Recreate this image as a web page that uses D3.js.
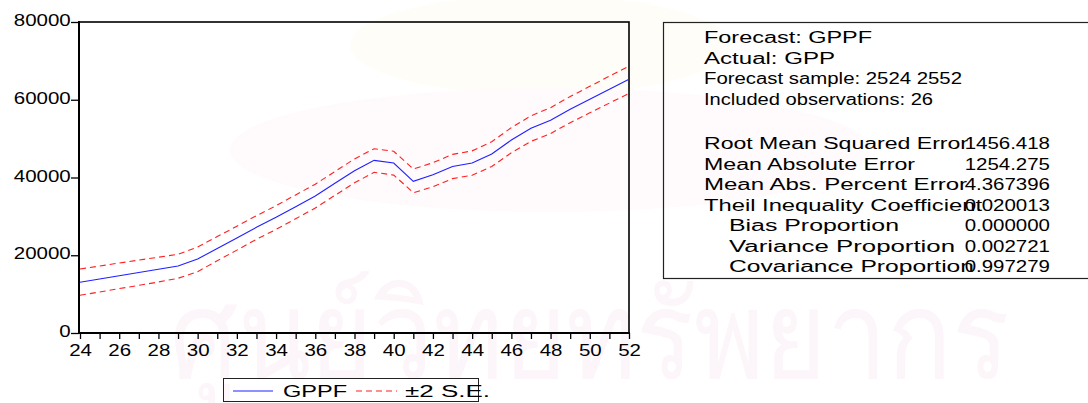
<!DOCTYPE html>
<html>
<head>
<meta charset="utf-8">
<script src="https://cdn.jsdelivr.net/npm/d3@7"></script>
<style>
body { margin:0; background:#fff; }
text { font-family: "Liberation Sans", Arial, sans-serif; font-size:16px; fill:#000; }
</style>
</head>
<body>
<svg width="1088" height="403"></svg>
<script>
'use strict';

// forecast years (25xx), forecast and the +/- 2 S.E. band
var years = d3.range(24, 53);
var gppf  = [13040,13880,14720,15550,16390,17230,19030,21750,24450,27180,
	29750,32490,35240,38500,41740,44410,43720,39010,40720,42850,
	43720,46040,49640,52640,54700,57530,60100,62680,65250];
var upper = [16460,17230,18000,18750,19500,20240,22120,24800,27480,30170,
	32760,35520,38280,41540,44780,47410,46740,42180,43800,45950,
	46850,49200,52830,55870,57960,60830,63450,66060,68670];
var lower = [9700,10560,11420,12260,13120,14070,15770,18600,21320,24100,
	26650,29400,32150,35400,38640,41330,40620,36090,37620,39720,
	40560,42830,46360,49300,51320,54100,56630,59140,61600];
var yTicks = [0, 20000, 40000, 60000, 80000];

var header = ['Forecast: GPPF', 'Actual: GPP', 'Forecast sample: 2524 2552', 'Included observations: 26'];
var statLabels = ['Root Mean Squared Error', 'Mean Absolute Error', 'Mean Abs. Percent Error',
	'Theil Inequality Coefficient', 'Bias Proportion', 'Variance Proportion', 'Covariance Proportion'];
var statValues = ['1456.418', '1254.275', '4.367396', '0.020013', '0.000000', '0.002721', '0.997279'];
var statIndent = [0, 0, 0, 0, 1, 1, 1];

// where each text ends in the reference (eviews spacing is uneven)
var headerEnds = [872, 835, 962, 933];
var statEnds = [968, 915, 967, 982, 899, 955, 974];

var svg = d3.select('svg');
var SX = 1.28; // eviews text looks stretched sideways

function label(g, x, y, str, anchor){
	return g.append('text')
		.attr('transform', 'translate(' + x + ',' + y + ') scale(' + SX + ',1)')
		.attr('text-anchor', anchor || 'start')
		.text(str);
}
function fitLabel(g, x, y, str, end){
	return label(g, x, y, str)
		.attr('textLength', (end - x) / SX)
		.attr('lengthAdjust', 'spacingAndGlyphs');
}

// faint watermark behind everything
var wm = svg.append('g');
wm.append('ellipse').attr('cx', 540).attr('cy', 45).attr('rx', 190).attr('ry', 50)
	.attr('fill', '#fefdf7');
wm.append('ellipse').attr('cx', 550).attr('cy', 150).attr('rx', 320).attr('ry', 62)
	.attr('fill', '#fffafc');
wm.append('text').attr('x', 170).attr('y', 378)
	.style('font-size', '122px').style('fill', '#fcf5f9')
	.attr('textLength', 840).attr('lengthAdjust', 'spacingAndGlyphs')
	.text('ศูนย์วิทยทรัพยากร');

var scaleX = d3.scaleLinear().domain([24, 52]).range([80, 629]);
var scaleY = d3.scaleLinear().domain([0, 80000]).range([333, 22]);

// axes
var ax = svg.append('g').attr('transform', 'translate(0,333)')
	.call(d3.axisBottom(scaleX).tickValues(years).tickSize(6).tickPadding(6)
		.tickFormat(function(d){ return d % 2 == 0 ? d : ''; }));
ax.select('.domain').remove();
ax.selectAll('line').attr('stroke', '#000').attr('stroke-width', 1.3);
ax.selectAll('text').filter(function(d){ return d % 2 != 0; }).remove();
ax.selectAll('text').attr('font-size', null).attr('font-family', null)
	.attr('transform', 'scale(' + SX + ',1)');

var ay = svg.append('g').attr('transform', 'translate(79,0)')
	.call(d3.axisLeft(scaleY).tickValues(yTicks).tickSize(8).tickPadding(0)
		.tickFormat(d3.format('d')));
ay.select('.domain').remove();
ay.selectAll('line').attr('stroke', '#000').attr('stroke-width', 1.3);
ay.selectAll('text').attr('font-size', null).attr('font-family', null)
	.attr('x', -6.5).attr('dy', '0.22em')
	.attr('transform', 'scale(' + SX + ',1)');

// frame
svg.append('rect').attr('x', 79).attr('y', 22).attr('width', 550).attr('height', 311)
	.attr('fill', 'none').attr('stroke', '#000').attr('stroke-width', 1.6);
svg.append('line').attr('x1', 79).attr('x2', 79).attr('y1', 21).attr('y2', 334)
	.attr('stroke', '#000').attr('stroke-width', 2);
svg.append('line').attr('x1', 78).attr('x2', 630).attr('y1', 333).attr('y2', 333)
	.attr('stroke', '#000').attr('stroke-width', 2);

// series
var line = d3.line()
	.x(function(d, i){ return scaleX(years[i]); })
	.y(function(d){ return scaleY(d); });

svg.append('path').datum(upper).attr('d', line)
	.attr('fill', 'none').attr('stroke', '#ff2020').attr('stroke-width', 1.1)
	.attr('stroke-dasharray', '6,4');
svg.append('path').datum(lower).attr('d', line)
	.attr('fill', 'none').attr('stroke', '#ff2020').attr('stroke-width', 1.1)
	.attr('stroke-dasharray', '6,4');
svg.append('path').datum(gppf).attr('d', line)
	.attr('fill', 'none').attr('stroke', '#2020ff').attr('stroke-width', 1.1);

// legend
var lg = svg.append('g');
lg.append('rect').attr('x', 223.5).attr('y', 378.5).attr('width', 255).attr('height', 23)
	.attr('fill', 'none').attr('stroke', '#222').attr('stroke-width', 1);
lg.append('line').attr('x1', 233).attr('x2', 273).attr('y1', 391).attr('y2', 391)
	.attr('stroke', '#2020ff').attr('stroke-width', 1.1);
fitLabel(lg, 283, 397, 'GPPF', 347);
lg.append('line').attr('x1', 356).attr('x2', 397).attr('y1', 391).attr('y2', 391)
	.attr('stroke', '#ff2020').attr('stroke-width', 1.1).attr('stroke-dasharray', '6,4');
fitLabel(lg, 405, 397, '±2 S.E.', 490);

// statistics box
var sb = svg.append('g');
sb.append('rect').attr('x', 663.5).attr('y', 22.5).attr('width', 440).attr('height', 256)
	.attr('fill', 'none').attr('stroke', '#222').attr('stroke-width', 1.2);
header.forEach(function(s, i){
	fitLabel(sb, 704, 43 + i * 20.6, s, headerEnds[i]);
});
statLabels.forEach(function(s, i){
	var y = 149 + i * 20.5;
	var x = statIndent[i] ? 729 : 704;
	fitLabel(sb, x, y, s, statEnds[i]);
	label(sb, 1050, y, statValues[i], 'end');
});
</script>
</body>
</html>
